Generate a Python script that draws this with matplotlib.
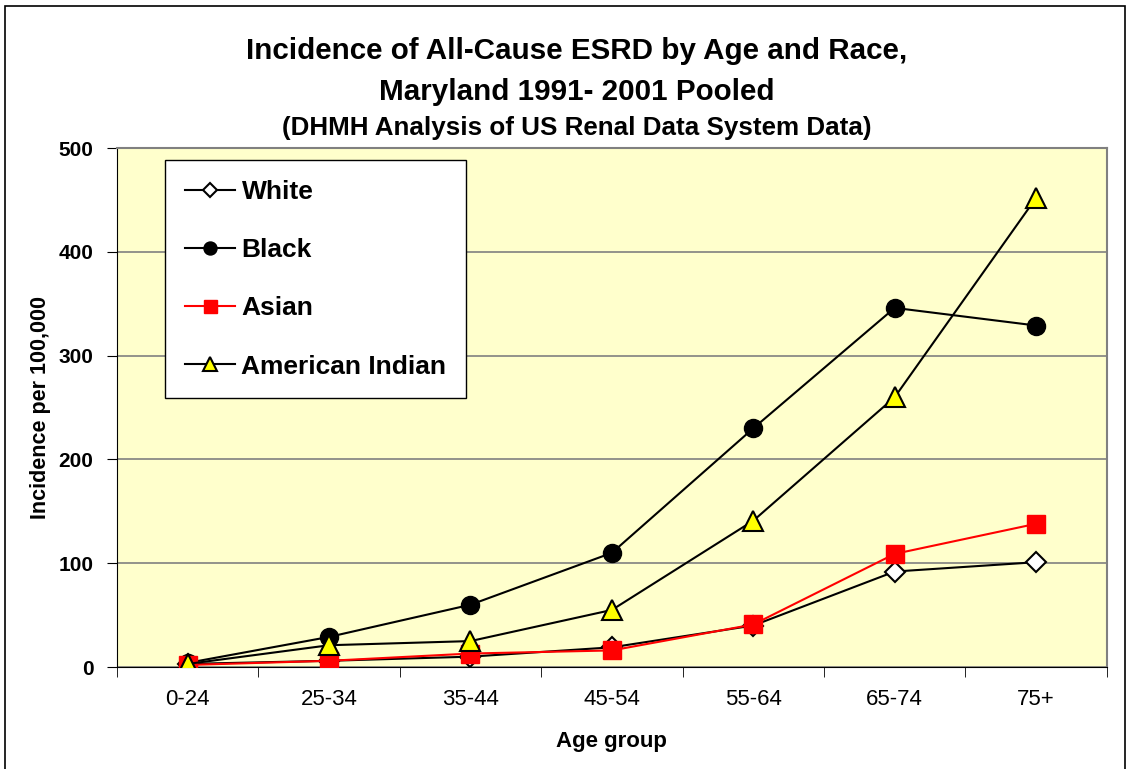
import matplotlib
matplotlib.use("Agg")
import matplotlib.pyplot as plt
from matplotlib.patches import Rectangle

plt.rcParams['font.family'] = ['Liberation Sans', 'DejaVu Sans']

age_groups = ["0-24", "25-34", "35-44", "45-54", "55-64", "65-74", "75+"]
white = [3, 6, 10, 19, 40, 92, 101]
black = [4, 29, 60, 110, 230, 346, 329]
asian = [2, 6, 13, 16, 41, 109, 138]
american_indian = [3, 21, 25, 55, 141, 260, 452]

fig = plt.figure(figsize=(11.30, 7.69), dpi=100)
fig.patches.append(Rectangle((0.004, -0.01), 0.992, 1.002, transform=fig.transFigure,
                             fill=False, edgecolor='black', linewidth=1.2))
ax = fig.add_axes([0.1035, 0.1326, 0.876, 0.6749])
ax.set_facecolor('#FFFFCC')

x = list(range(len(age_groups)))
ax.plot(x, white, color='black', lw=1.5, marker='D', ms=10, mfc='white', mec='black', mew=1.5,
        label='White', zorder=3)
ax.plot(x, black, color='black', lw=1.5, marker='o', ms=13, mfc='black', mec='black',
        label='Black', zorder=3)
ax.plot(x, asian, color='red', lw=1.5, marker='s', ms=13, mfc='red', mec='red',
        label='Asian', zorder=3)
ax.plot(x, american_indian, color='black', lw=1.5, marker='^', ms=14, mfc='yellow', mec='black',
        mew=1.5, label='American Indian', zorder=3)

ax.set_xlim(-0.5, len(age_groups) - 0.5)
ax.set_ylim(0, 500)
ax.set_yticks([0, 100, 200, 300, 400, 500])
ax.set_xticks(x)
ax.set_xticklabels(age_groups, fontsize=16)
ax.set_xticks([i - 0.5 for i in range(len(age_groups) + 1)], minor=True)
ax.tick_params(axis='x', which='major', length=0, pad=16)
ax.tick_params(axis='x', which='minor', length=7, direction='out', color='black')
ax.tick_params(axis='y', length=7, direction='out', labelsize=15, pad=10)
for lbl in ax.get_yticklabels():
    lbl.set_fontweight('bold')
ax.yaxis.grid(True, color='#808080', lw=1.2)
ax.set_axisbelow(True)
for side in ['top', 'right']:
    ax.spines[side].set_color('#808080')
    ax.spines[side].set_linewidth(1.5)
ax.spines['left'].set_color('black')
ax.spines['bottom'].set_color('black')

ax.set_xlabel('Age group', fontsize=16, fontweight='bold', labelpad=15)
ax.set_ylabel('Incidence per 100,000', fontsize=15.5, fontweight='bold', labelpad=5)

fig.text(0.51, 0.934, 'Incidence of All-Cause ESRD by Age and Race,', ha='center', va='center',
         fontsize=21.3, fontweight='bold')
fig.text(0.51, 0.880, 'Maryland 1991- 2001 Pooled', ha='center', va='center',
         fontsize=21.3, fontweight='bold')
fig.text(0.51, 0.833, '(DHMH Analysis of US Renal Data System Data)', ha='center', va='center',
         fontsize=18.7, fontweight='bold')

leg = ax.legend(loc='upper left', bbox_to_anchor=(0.0485, 0.977), frameon=True, fancybox=False,
                edgecolor='black', framealpha=1, fontsize=19, labelspacing=1.3,
                handlelength=1.9, handletextpad=0.25, borderpad=0.75, borderaxespad=0,
                markerscale=0.72)
leg.get_frame().set_linewidth(1.0)
for t in leg.get_texts():
    t.set_fontweight('bold')

fig.savefig('out.png', dpi=100)
